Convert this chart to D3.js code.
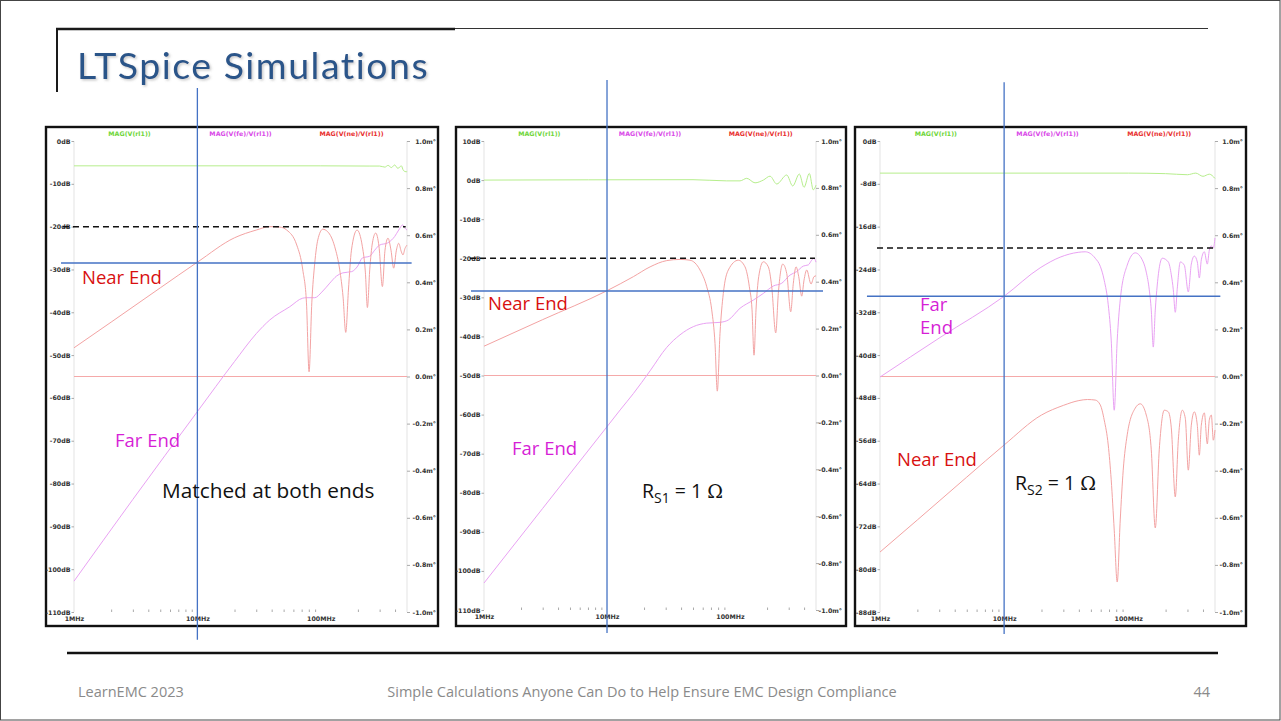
<!DOCTYPE html>
<html>
<head>
<meta charset="utf-8">
<script src="https://cdn.jsdelivr.net/npm/d3@7"></script>
<style>
  html, body { margin: 0; padding: 0; background: #fff; }
  svg { display: block; }
  .ax text { font-family: "DejaVu Sans", Verdana, sans-serif; font-weight: bold; font-size: 6.3px; fill: #333; }
  .ax line { stroke: #aaa; }
  .ax path.domain { display: none; }
  .note { font-family: "Open Sans", "Noto Sans", sans-serif; }
  .foot { font-family: "Open Sans", "Noto Sans", sans-serif; font-size: 14.5px; fill: #8a8a8a; }
  .title { font-variant-ligatures: none; font-feature-settings: "liga" 0; }
</style>
</head>
<body>
<svg id="slide" width="1281" height="721"></svg>
<script>
// ---- Tick values and labels ----
const freqTicks = [1, 10, 100];               // MHz
const freqMinor = [2,3,4,5,6,7,8,9,20,30,40,50,60,70,80,90,200,300,400];
const dbTicksA = [0,-10,-20,-30,-40,-50,-60,-70,-80,-90,-100,-110];
const dbTicksB = [10,0,-10,-20,-30,-40,-50,-60,-70,-80,-90,-100,-110];
const dbTicksC = [0,-8,-16,-24,-32,-40,-48,-56,-64,-72,-80,-88];
const phaseTicks = [1,0.8,0.6,0.4,0.2,0,-0.2,-0.4,-0.6,-0.8,-1];   // m°
const traceNames = ["MAG(V(rl1))", "MAG(V(fe)/V(rl1))", "MAG(V(ne)/V(rl1))"];

// ---- Panel 1: matched at both ends  [MHz, dB] ----
const p1Load = [[1,-5.8],[100,-5.8],[250,-5.85],[300,-5.85],[331,-6.1],[351,-5.7],[374,-6.2],[397,-5.6],[422,-6.4],[450,-5.8],[468,-6.9],[494,-7.2],[500,-7.0]];
const p1Far = [[1,-102.8],[3,-83.7],[10,-63.2],[20,-51.5],[30,-45.0],[38.6,-41.8],[56.1,-38.7],[71.5,-36.7],[77,-36.6],[89.4,-36.6],[101.9,-35.3],[118.3,-33.2],[134.8,-31.5],[150.7,-30.8],[178.3,-30.5],[199.4,-29.2],[217.6,-27.3],[249.4,-26.9],[273.6,-25.5],[300.3,-24.3],[348.8,-23.8],[375.8,-23.1],[397.4,-22.3],[428.2,-20.8],[461.3,-19.6],[478.8,-20.3],[500,-20.8]];
const p1Near = [[1,-48.3],[2,-42.3],[5,-34.3],[10,-28.3],[20,-22.6],[30,-20.8],[38.6,-20.0],[46.5,-20.1],[53,-20.8],[63.9,-24.3],[71.5,-30.1],[76.6,-37.8],[80.4,-53.9],[84.6,-37.8],[89.4,-28.5],[94.6,-23.1],[103.8,-20.6],[113.9,-21.2],[129.8,-24.7],[142.5,-30.1],[151.6,-36.4],[159.4,-44.7],[167.6,-34.8],[177.3,-25.5],[196.8,-20.8],[217.6,-24.7],[230.1,-30.8],[238.8,-38.9],[249.4,-30.1],[262.2,-23.8],[278.8,-21.5],[296.6,-24.7],[315.9,-34.0],[331.6,-25.5],[350.7,-22.7],[370.9,-25.5],[390,-29.7],[410.2,-25.5],[428.2,-23.9],[450.2,-25.9],[463.8,-26.6],[481.5,-25.1],[500,-24.3]];

// ---- Panel 2: RS1 = 1 ohm ----
const p2Load = [[1,0.0],[50,0.1],[94,-0.2],[120.6,-0.2],[136.7,0.45],[159.7,-0.7],[186.5,0.0],[211.4,1.0],[239.8,-1.0],[289.1,1.3],[323.4,-1.5],[365.9,1.55],[399.6,-1.85],[441.3,1.7],[475.6,-2.5],[500,-1.3]];
const p2Far = [[1,-103.1],[3,-84.0],[10,-63.1],[12.8,-58.8],[16.4,-54.6],[22.4,-48.8],[30.6,-42.8],[39.2,-39.6],[50.3,-37.5],[64.7,-36.6],[82.9,-36.4],[96.9,-35.8],[120.6,-32.8],[154.7,-30.7],[186.5,-29.0],[224.9,-27.1],[263.3,-26.4],[307.5,-24.3],[348.6,-23.4],[394.4,-22.0],[433,-21.7],[461.3,-20.5],[481.9,-20.0],[500,-21.0]];
const p2Near = [[1,-42.5],[3,-35.7],[10,-28.3],[16.4,-24.7],[22.4,-22.2],[30.6,-20.6],[39.2,-20.3],[47.3,-20.5],[57,-23.0],[64.7,-27.3],[71,-33.2],[75.5,-41.8],[78.8,-54.0],[82.9,-39.2],[88.2,-29.0],[96.9,-23.0],[116.8,-20.5],[132.4,-22.2],[143.6,-27.3],[151,-33.2],[156.7,-44.8],[162.7,-33.2],[171.1,-24.7],[186.5,-20.9],[204.8,-22.2],[218.3,-27.3],[235.3,-39.1],[247,-29.0],[268.3,-21.5],[289.1,-23.9],[311.5,-33.7],[327.1,-26.4],[344.1,-22.2],[361.9,-24.7],[382.7,-29.7],[399.6,-25.6],[420.4,-23.0],[455.6,-26.6],[481.9,-24.7],[500,-24.5]];

// ---- Panel 3: RS2 = 1 ohm ----
const p3Load = [[1,-6.0],[100,-6.0],[200,-6.1],[300,-6.3],[350,-6.0],[400,-6.6],[450,-6.2],[500,-7.0]];
const p3Far = [[1,-44.1],[3.1,-36.6],[10,-29.0],[19.5,-23.7],[28.3,-21.7],[39.5,-20.8],[45,-20.7],[54.2,-21.9],[59.5,-23.4],[64,-26.0],[69,-30.6],[72.9,-37.2],[77.1,-50.3],[81.5,-37.2],[86.2,-29.7],[98.1,-23.2],[113.9,-20.9],[132.1,-22.6],[139.7,-24.5],[147.7,-27.8],[153.3,-31.6],[159.1,-38.5],[165.1,-31.6],[171.3,-26.9],[188,-21.9],[210.2,-22.6],[222.3,-25.0],[230.7,-27.8],[239.3,-32.0],[248.5,-27.5],[262.7,-22.6],[282.9,-23.2],[304.7,-28.2],[322.2,-23.0],[340.7,-21.5],[360.1,-22.6],[373.8,-25.6],[387.9,-22.2],[410.2,-20.7],[433.6,-23.0],[450,-20.4],[467.1,-19.6],[484.8,-20.0],[500,-18.1]];
const p3Near = [[1,-76.8],[2,-70.8],[5,-62.8],[10,-56.8],[20,-51.2],[30,-49.4],[40,-48.5],[47,-48.3],[54.2,-48.4],[59.5,-49.3],[64,-52.1],[69,-56.8],[72.9,-63.3],[77.1,-72.7],[81.5,-82.4],[86.2,-70.8],[91.1,-61.5],[98.1,-54.9],[113.9,-49.9],[125,-49.1],[139.7,-51.2],[153.3,-57.7],[165.1,-72.3],[177.8,-57.7],[195.1,-50.3],[210.2,-50.6],[222.3,-53.6],[239.3,-66.5],[253.1,-55.9],[272.6,-50.3],[288.2,-51.8],[304.7,-61.5],[322.2,-53.1],[340.7,-50.6],[360.1,-53.1],[373.8,-58.7],[387.9,-53.1],[410.2,-50.8],[433.6,-56.6],[450,-52.1],[467.1,-51.2],[484.8,-55.9],[500,-54.0]];

// phase trace (right axis, m°)
const phaseTrace = [[1,0],[500,0]];

// ---- Overlay markers (in data units) ----
const refLevel = -20;                              // dashed reference level, dB
const cursorFreq = 10;                             // MHz
const cursorLevels = [-28.5, -28.4, -29.0];        // dB at the 10 MHz crossing

// ---- Layout ----
const panels = [
  { frame: [46, 127, 438, 626], plot: [74, 141, 407, 612], db: [-110, 0], ticks: dbTicksA,
    load: p1Load, far: p1Far, near: p1Near, rEnd: 436,
    dash: [0.814, 488], hLine: [0.785, 545], vLine: [12.4, -116.5] },
  { frame: [456, 127, 846, 626], plot: [484, 141, 816, 610], db: [-110, 10], ticks: dbTicksB,
    load: p2Load, far: p2Far, near: p2Near, rEnd: 842,
    dash: [0.77, 491], hLine: [0.784, 570], vLine: [25.6, -115.9] },
  { frame: [855, 127, 1246, 626], plot: [880, 141, 1215, 612], db: [-88, 0], ticks: dbTicksC,
    load: p3Load, far: p3Far, near: p3Near, rEnd: 1243,
    dash: [0.946, 500], hLine: [0.785, 552], vLine: [11.0, -92.1] }
];

const colors = { load: "#b6ee8c", far: "#e9a2f3", near: "#f3a3a3", phase: "#f5a9a9",
                 loadText: "#6fd63a", farText: "#d94ae8", nearText: "#e8302f",
                 cursor: "#4472c4", noteRed: "#d81010", noteMag: "#d61fd6" };

const svg = d3.select("#slide");
const defs = svg.append("defs");
const sh = defs.append("filter").attr("id", "tshadow").attr("x", "-5%").attr("y", "-20%").attr("width", "110%").attr("height", "150%");
sh.append("feDropShadow").attr("dx", 1.5).attr("dy", 1.5).attr("stdDeviation", 1)
  .attr("flood-color", "#7a7a7a").attr("flood-opacity", 0.4);

// slide background and outline
svg.append("rect").attr("x", 0.5).attr("y", 0.5).attr("width", 1279.5).attr("height", 719.5)
  .attr("fill", "#fff").attr("stroke", "#444").attr("stroke-width", 1);

// title bracket
svg.append("line").attr("x1", 56).attr("y1", 29).attr("x2", 455).attr("y2", 29).attr("stroke", "#1a1a1a").attr("stroke-width", 2.5);
svg.append("line").attr("x1", 455).attr("y1", 28.5).attr("x2", 1208).attr("y2", 28.5).attr("stroke", "#333").attr("stroke-width", 1.2);
svg.append("line").attr("x1", 57).attr("y1", 28).attr("x2", 57).attr("y2", 92).attr("stroke", "#1a1a1a").attr("stroke-width", 2);
svg.append("text").attr("class", "title").attr("x", 77).attr("y", 79).attr("filter", "url(#tshadow)")
  .attr("font-family", "Lato, 'Open Sans', sans-serif").attr("font-size", 37.5).attr("letter-spacing", 1.5)
  .attr("fill", "#2c5489").text("LTSpice Simulations");

const lineGen = (xs, ys) => d3.line().x(d => xs(d[0])).y(d => ys(d[1])).curve(d3.curveMonotoneX);

panels.forEach((p, i) => {
  const [x0, y0, x1, y1] = p.plot;
  const g = svg.append("g");
  const x = d3.scaleLog().domain([1, 500]).range([x0, x1]);
  const y = d3.scaleLinear().domain(p.db).range([y1, y0]);
  const yR = d3.scaleLinear().domain([-1, 1]).range([y1, y0]);

  // frame
  g.append("rect").attr("x", p.frame[0]).attr("y", p.frame[1])
    .attr("width", p.frame[2] - p.frame[0]).attr("height", p.frame[3] - p.frame[1])
    .attr("fill", "#fff").attr("stroke", "#111").attr("stroke-width", 2.4);

  // plot edges
  [x0, x1].forEach(xx => g.append("line").attr("x1", xx).attr("x2", xx).attr("y1", y0).attr("y2", y1)
    .attr("stroke", "#e3e3e3").attr("stroke-width", 1));

  // axes
  g.append("g").attr("class", "ax").attr("transform", `translate(${x0},0)`)
    .call(d3.axisLeft(y).tickValues(p.ticks).tickSize(2.5).tickPadding(1).tickFormat(d => d + "dB"));
  const ra = g.append("g").attr("class", "ax").attr("transform", `translate(${x1},0)`)
    .call(d3.axisRight(yR).tickValues(phaseTicks).tickSize(3).tickFormat(d => d.toFixed(1) + "m°"));
  ra.selectAll("text").attr("text-anchor", "end").attr("x", p.rEnd - x1);
  g.append("g").attr("class", "ax").attr("transform", `translate(0,${y1})`)
    .call(d3.axisBottom(x).tickValues(freqTicks).tickSize(0).tickPadding(5).tickFormat(d => d + "MHz"));
  g.append("g").attr("class", "ax").attr("transform", `translate(0,${y1})`)
    .call(d3.axisBottom(x).tickValues(freqMinor).tickSize(-2.5).tickFormat(""))
    .selectAll("line").attr("stroke", "#d0d0d0");

  // trace names
  const nameColors = [colors.loadText, colors.farText, colors.nearText];
  traceNames.forEach((t, k) => {
    g.append("text").attr("x", x0 + (x1 - x0) * (1 + 2 * k) / 6).attr("y", 135.5)
      .attr("text-anchor", "middle").attr("font-family", "'DejaVu Sans', Verdana, sans-serif")
      .attr("font-weight", "bold").attr("font-size", 6.3).attr("fill", nameColors[k]).text(t);
  });

  // traces
  const tl = g.append("g").attr("fill", "none").attr("stroke-width", 1);
  tl.append("path").attr("d", lineGen(x, yR)(phaseTrace)).attr("stroke", colors.phase);
  tl.append("path").attr("d", lineGen(x, y)(p.load)).attr("stroke", colors.load);
  tl.append("path").attr("d", lineGen(x, y)(p.far)).attr("stroke", colors.far);
  tl.append("path").attr("d", lineGen(x, y)(p.near)).attr("stroke", colors.near);

  // reference level and cursor lines
  g.append("line").attr("x1", x(p.dash[0])).attr("x2", x(p.dash[1]))
    .attr("y1", y(refLevel)).attr("y2", y(refLevel))
    .attr("stroke", "#111").attr("stroke-width", 1.5).attr("stroke-dasharray", "6,4");
  g.append("line").attr("x1", x(p.hLine[0])).attr("x2", x(p.hLine[1]))
    .attr("y1", y(cursorLevels[i])).attr("y2", y(cursorLevels[i]))
    .attr("stroke", colors.cursor).attr("stroke-width", 1.5);
  g.append("line").attr("x1", x(cursorFreq)).attr("x2", x(cursorFreq))
    .attr("y1", y(p.vLine[0])).attr("y2", y(p.vLine[1]))
    .attr("stroke", colors.cursor).attr("stroke-width", 1.3);
});

// annotations
const note = (x, y, txt, col, size) => svg.append("text").attr("class", "note")
  .attr("x", x).attr("y", y).attr("font-size", size || 18.5).attr("fill", col).text(txt);

note(82, 284, "Near End", colors.noteRed);
note(115, 447, "Far End", colors.noteMag);
note(162, 498, "Matched at both ends", "#111", 20.8);

note(488, 310, "Near End", colors.noteRed);
note(512, 455, "Far End", colors.noteMag);

note(920, 311, "Far", colors.noteMag);
note(920, 334, "End", colors.noteMag);
note(897, 466, "Near End", colors.noteRed);

function resistorNote(x, y, sub) {
  const t = svg.append("text").attr("class", "note").attr("x", x).attr("y", y)
    .attr("font-size", 19.5).attr("fill", "#111");
  t.append("tspan").text("R");
  t.append("tspan").attr("dy", 5).attr("font-size", 14).text(sub);
  t.append("tspan").attr("dy", -5).text(" = 1 ");
  t.append("tspan").attr("font-family", "'DejaVu Serif', 'Liberation Serif', serif").attr("font-size", 19).text("Ω");
}
resistorNote(642, 498, "S1");
resistorNote(1015, 490, "S2");

// footer
svg.append("line").attr("x1", 67).attr("x2", 1218).attr("y1", 653).attr("y2", 653)
  .attr("stroke", "#111").attr("stroke-width", 2.5);
svg.append("text").attr("class", "foot").attr("x", 78).attr("y", 697).text("LearnEMC 2023");
svg.append("text").attr("class", "foot").attr("x", 642).attr("y", 697).attr("text-anchor", "middle")
  .text("Simple Calculations Anyone Can Do to Help Ensure EMC Design Compliance");
svg.append("text").attr("class", "foot").attr("x", 1210).attr("y", 697).attr("text-anchor", "end").text("44");
</script>
</body>
</html>
